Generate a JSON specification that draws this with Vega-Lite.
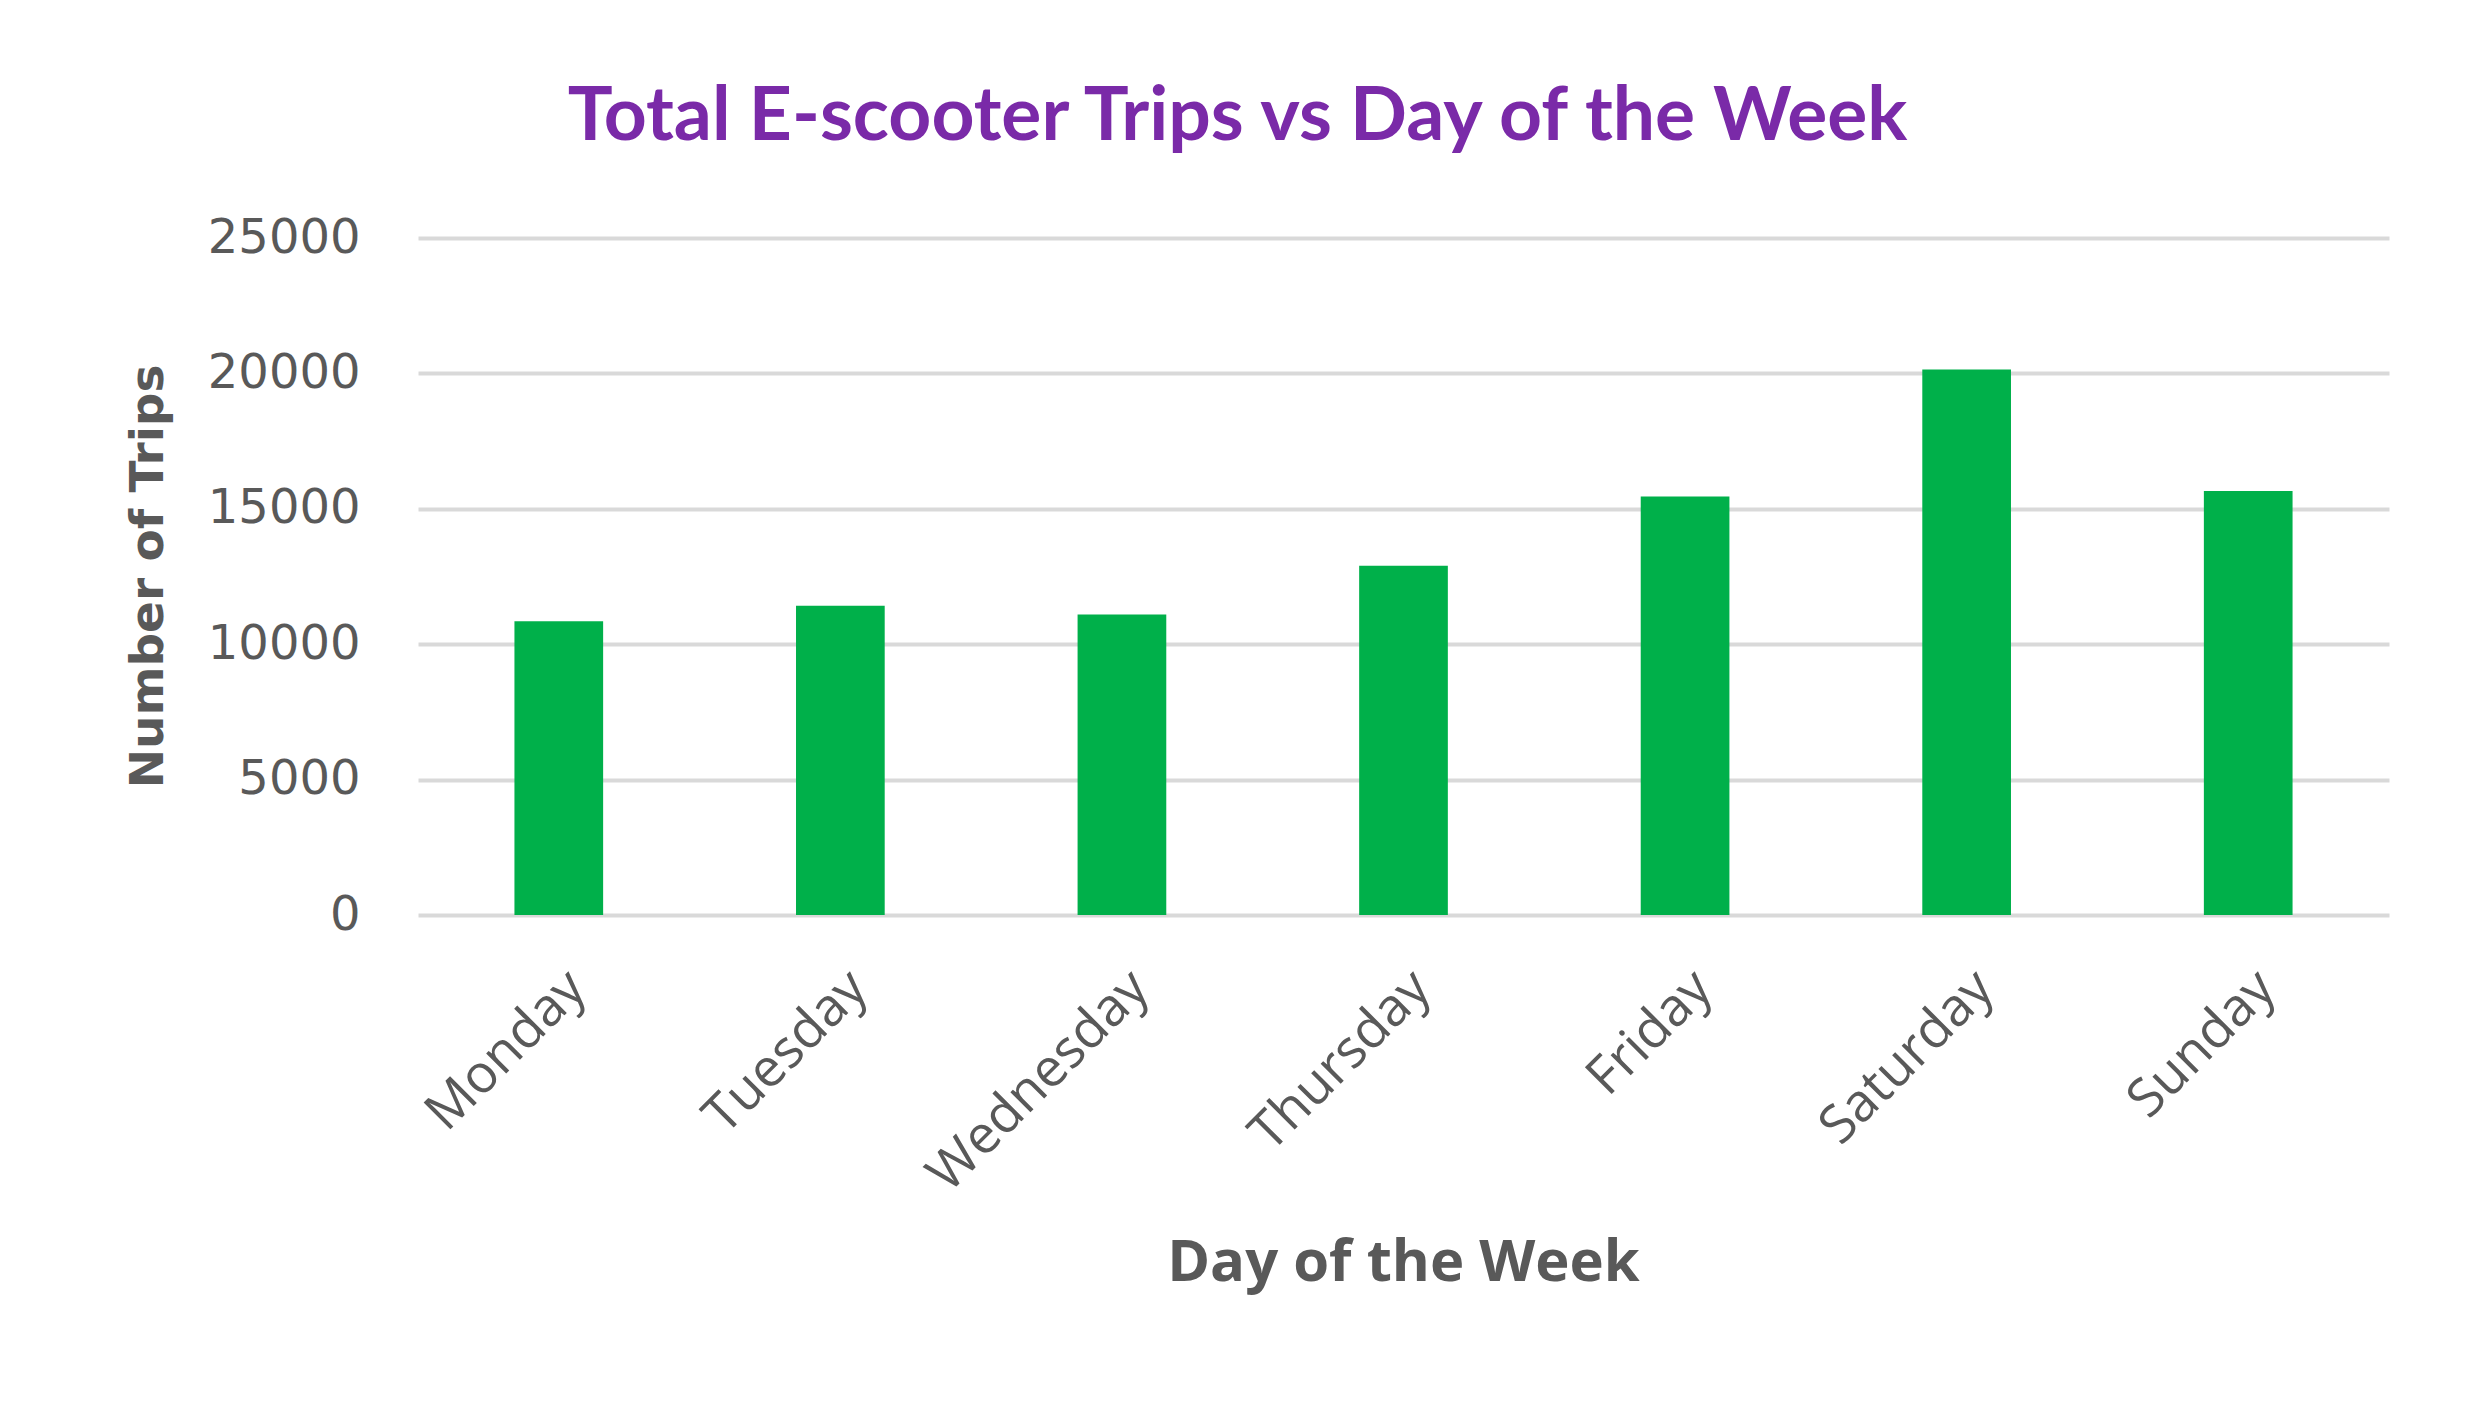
{
  "$schema": "https://vega.github.io/schema/vega-lite/v6.json",
  "autosize": "none",
  "width": 1971,
  "height": 677,
  "padding": {"left": 418, "top": 238, "right": 85, "bottom": 486},
  "background": "#ffffff",
  "title": {
    "text": "Total E-scooter Trips vs Day of the Week",
    "font": "Lato",
    "fontWeight": "bold",
    "fontSize": 75,
    "color": "#7a2aa8",
    "anchor": "middle",
    "dx": -166,
    "offset": 58
  },
  "data": {
    "values": [
      {"day": "Monday", "trips": 10850},
      {"day": "Tuesday", "trips": 11420},
      {"day": "Wednesday", "trips": 11100},
      {"day": "Thursday", "trips": 12900},
      {"day": "Friday", "trips": 15450},
      {"day": "Saturday", "trips": 20140},
      {"day": "Sunday", "trips": 15660}
    ]
  },
  "mark": {"type": "bar", "color": "#00b04a"},
  "encoding": {
    "x": {
      "field": "day",
      "type": "nominal",
      "sort": null,
      "scale": {"paddingInner": 0.685, "paddingOuter": 0.3425},
      "axis": {
        "title": "Day of the Week",
        "titleFont": "Open Sans",
        "titleFontWeight": "bold",
        "titleFontSize": 58,
        "titleColor": "#595959",
        "titleX": 985,
        "titleY": 365,
        "titleAlign": "center",
        "titleBaseline": "alphabetic",
        "labelAngle": -45,
        "labelFont": "Open Sans",
        "labelFontSize": 53,
        "labelColor": "#595959",
        "labelPadding": 46,
        "labelDx": -40,
        "labelDy": 0,
        "labelLimit": 0,
        "labelOverlap": false,
        "ticks": false,
        "domain": false,
        "grid": false
      }
    },
    "y": {
      "field": "trips",
      "type": "quantitative",
      "scale": {"domain": [0, 25000], "nice": false},
      "axis": {
        "values": [0, 5000, 10000, 15000, 20000, 25000],
        "format": "d",
        "title": "Number of Trips",
        "titleFont": "DejaVu Sans",
        "titleFontWeight": "bold",
        "titleFontSize": 47,
        "titleColor": "#595959",
        "titleAngle": -90,
        "titleX": -270,
        "titleY": 338,
        "titleAlign": "center",
        "titleBaseline": "middle",
        "labelFont": "DejaVu Sans",
        "labelFontSize": 48,
        "labelColor": "#595959",
        "labelPadding": 58,
        "ticks": false,
        "domain": false,
        "grid": true,
        "gridColor": "#d9d9d9",
        "gridWidth": 4
      }
    }
  },
  "config": {
    "view": {"stroke": null}
  }
}
